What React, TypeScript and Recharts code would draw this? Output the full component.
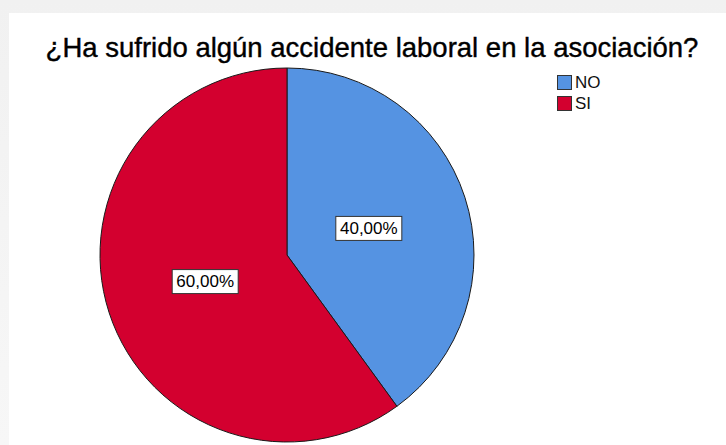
import React from "react";
import { PieChart, Pie, Cell, Legend } from "recharts";

const categories = ["NO", "SI"];
const values = [40, 60];
const labels = ["40,00%", "60,00%"];
const colors = ["#5593e2", "#d3002f"];
const title = "¿Ha sufrido algún accidente laboral en la asociación?";

const data = categories.map((name, i) => ({ name, value: values[i], label: labels[i] }));

const RAD = Math.PI / 180;

const renderLabel = (props: any) => {
  const { cx, cy, midAngle, outerRadius, index } = props;
  const r = outerRadius * 0.46;
  const x = cx + r * Math.cos(-midAngle * RAD);
  const y = cy + r * Math.sin(-midAngle * RAD);
  const w = 66;
  const h = 24;
  return (
    <g>
      <rect x={x - w / 2} y={y - h / 2} width={w} height={h} fill="#ffffff" stroke="#333" strokeWidth={1} />
      <text x={x} y={y + 1} textAnchor="middle" dominantBaseline="middle" fontFamily="Liberation Sans, Arial, sans-serif" fontSize={17} fill="#000">
        {data[index].label}
      </text>
    </g>
  );
};

const LegendContent = (props: any) => {
  const { payload } = props;
  return (
    <div style={{ fontFamily: "Liberation Sans, Arial, sans-serif", fontSize: 17, color: "#111" }}>
      {(payload || []).map((p: any, i: number) => (
        <div key={i} style={{ display: "flex", alignItems: "center", height: 21 }}>
          <span style={{ display: "inline-block", width: 15, height: 15, background: p.color, border: "1px solid #333", boxSizing: "border-box", marginRight: 3 }} />
          <span>{p.value}</span>
        </div>
      ))}
    </div>
  );
};

export default function App() {
  return (
    <div style={{ position: "fixed", left: 0, top: 0, width: 726, height: 445, background: "linear-gradient(#f1f1f1, #f7f7f7)", overflow: "hidden" }}>
      <div style={{ position: "absolute", left: 9, top: 13, width: 717, height: 432, background: "#ffffff" }} />
      <div style={{ position: "absolute", left: 0, top: 32, width: 744, textAlign: "center", fontFamily: "Liberation Sans, Arial, sans-serif", fontSize: 27.5, color: "#000", whiteSpace: "nowrap", WebkitTextStroke: "0.4px #000" }}>
        {title}
      </div>
      <div style={{ position: "absolute", left: 0, top: 0 }}>
        <PieChart width={726} height={445} margin={{ top: 0, right: 0, bottom: 0, left: 0 }}>
          <Pie
            data={data}
            dataKey="value"
            nameKey="name"
            cx={287}
            cy={255}
            outerRadius={187}
            startAngle={90}
            endAngle={-270}
            stroke="#1a1a1a"
            strokeWidth={1}
            label={renderLabel}
            labelLine={false}
            isAnimationActive={false}
          >
            {data.map((d, i) => (
              <Cell key={d.name} fill={colors[i]} />
            ))}
          </Pie>
          <Legend
            layout="vertical"
            verticalAlign="top"
            align="right"
            content={<LegendContent />}
            wrapperStyle={{ position: "absolute", left: 557, top: 72, width: 80 }}
          />
        </PieChart>
      </div>
    </div>
  );
}
